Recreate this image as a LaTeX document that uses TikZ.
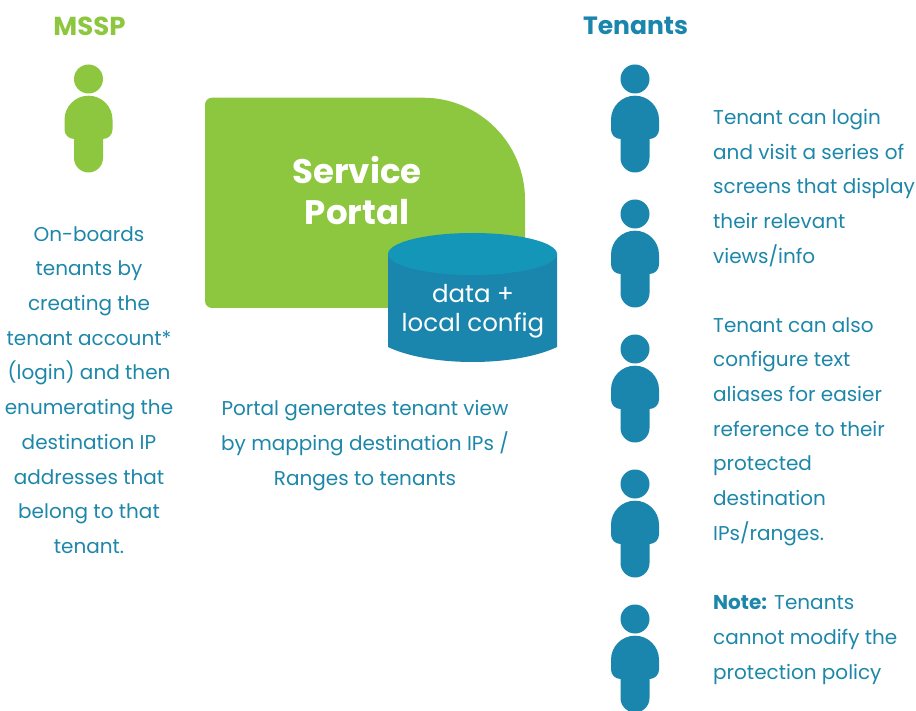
\documentclass[tikz,border=0pt]{standalone}
\usepackage{fontspec}
\setmainfont{Poppins}
\definecolor{lime}{HTML}{8DC63F}
\definecolor{teal1}{HTML}{1A85AD}
\definecolor{teal2}{HTML}{1496B8}
\definecolor{textc}{HTML}{1D87A9}
\tikzset{
  personshape/.pic={
    \fill[pic actions] (0,0) circle (14.5);
    \fill[pic actions] (-24,40.7) arc[start angle=180,end angle=360,radius=24] -- (24,50.5)
      arc[start angle=0,end angle=90,radius=9.5] -- (14.5,79)
      arc[start angle=0,end angle=180,radius=14.5] -- (-14.5,60)
      arc[start angle=90,end angle=180,radius=9.5] -- cycle;
  },
  body/.style={font=\fontsize{20pt}{34.7pt}\selectfont,text=textc,inner sep=0pt,align=center},
  bodyl/.style={body,align=left,anchor=north west},
  head/.style={font=\fontsize{26pt}{30pt}\selectfont\bfseries,inner sep=0pt},
  big/.style={font=\fontsize{34pt}{41pt}\selectfont\bfseries,text=white,inner sep=0pt,align=center},
  dbtext/.style={font=\fontsize{24.5pt}{29pt}\selectfont,text=white,inner sep=0pt,align=center},
}
\begin{document}
\begin{tikzpicture}[x=1pt,y=-1pt]
\useasboundingbox (0,0) rectangle (916,711);
\node[head,text=lime] (mssp) at (89.5,26) {MSSP};
\node[head,text=teal1,font=\fontsize{25pt}{30pt}\selectfont\bfseries] (tenants) at (635.5,26) {Tenants};
\pic[fill=lime] at (88.5,79) {personshape};
\foreach \y in {79,214,349,484,619} \pic[fill=teal1] at (635,\y) {personshape};
% portal
\fill[lime] (212,97.7) -- (423,97.7) arc[start angle=-90,end angle=0,radius=102] -- (525,308) -- (212,308)
  arc[start angle=90,end angle=180,radius=7] -- (205,104.7)
  arc[start angle=180,end angle=270,radius=7] -- cycle;
\node[big] (portal) at (357,191) {Service\\Portal};
% database
\fill[teal1] (388,254) -- (388,347) .. controls (430,367) and (515,367) .. (557,347) -- (557,254) -- cycle;
\fill[teal2] (472.5,254) ellipse [x radius=84.5,y radius=21];
\node[dbtext] (db) at (473,311) {data +\\local config};
\node[body] (mtext) at (89,390) {On-boards\\tenants by\\creating the\\tenant account*\\(login) and then\\enumerating the\\destination IP\\addresses that\\belong to that\\tenant.};
\node[body] (ptext) at (365,445.5) {Portal generates tenant view\\by mapping destination IPs /\\Ranges to tenants};
\node[bodyl] (t1) at (713,109) {Tenant can login\\and visit a series of\\screens that display\\their relevant\\views/info};
\node[bodyl] (t2) at (713,317) {Tenant can also\\configure text\\aliases for easier\\reference to their\\protected\\destination\\IPs/ranges.};
\node[bodyl] (t3) at (713,595.5) {\textbf{Note:} Tenants\\cannot modify the\\protection policy};
\end{tikzpicture}
\end{document}
